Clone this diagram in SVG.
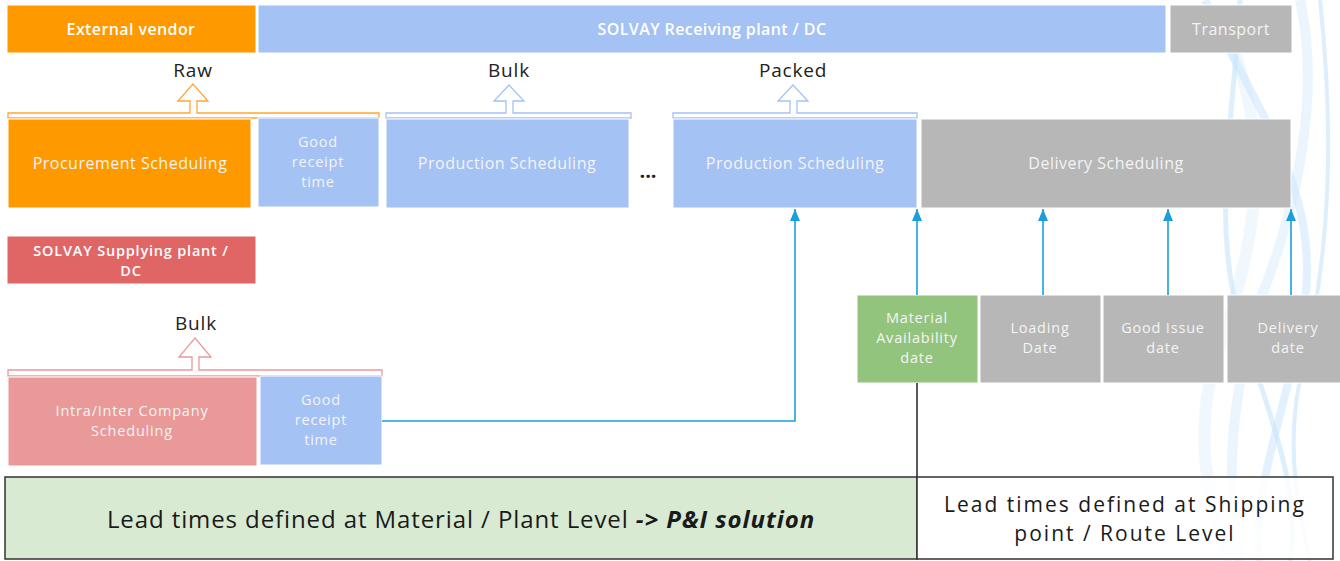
<svg xmlns="http://www.w3.org/2000/svg" width="1340" height="561" viewBox="0 0 1340 561">
<style>
  text { font-family: "Open Sans", "Noto Sans", "Liberation Sans", sans-serif; }
  .box { stroke: #ffffff; stroke-width: 1; }
  .lt { fill: #f4f4f4; font-size: 16px; letter-spacing: 0.5px; text-anchor: middle; }
  .ml { fill: #f4f4f4; font-size: 14.5px; letter-spacing: 0.8px; text-anchor: middle; }
  .hd { fill: #ffffff; font-size: 16px; letter-spacing: 0.4px; font-weight: 600; text-anchor: middle; }
  .hd2 { fill: #ffffff; font-size: 14.5px; letter-spacing: 0.8px; font-weight: 600; text-anchor: middle; }
  .lbl { fill: #222222; font-size: 19px; letter-spacing: 0.8px; text-anchor: middle; }
  .conn { stroke: #1a9fdc; stroke-width: 1.6; fill: none; }
  .wave { fill: none; stroke: #a9d8fb; }
  .big { fill: #1a1a1a; font-size: 24px; letter-spacing: 0.9px; text-anchor: middle; }
  .big2 { fill: #1a1a1a; font-size: 21px; letter-spacing: 2px; text-anchor: middle; }
</style>
<defs>
  <marker id="arr" viewBox="0 0 12 10" refX="12" refY="5" markerWidth="12" markerHeight="10" markerUnits="userSpaceOnUse" orient="auto">
    <path d="M0,0 L12,5 L0,10 Z" fill="#1a9fdc"/>
  </marker>
</defs>

<!-- decorative waves -->
<g id="waves" opacity="0.65">
  <path class="wave" stroke-width="8" opacity="0.5" d="M1205,0 C1260,120 1330,200 1300,330 C1280,430 1250,500 1260,561"/>
  <path class="wave" stroke-width="5" opacity="0.6" d="M1240,0 C1235,110 1210,220 1240,320 C1270,420 1300,480 1290,561"/>
  <path class="wave" stroke-width="10" opacity="0.35" d="M1300,0 C1320,90 1300,200 1260,300 C1230,400 1225,480 1240,561"/>
  <path class="wave" stroke-width="4" opacity="0.6" d="M1320,0 C1335,140 1330,260 1300,380 C1285,450 1300,520 1310,561"/>
  <path class="wave" stroke-width="12" opacity="0.25" d="M1225,30 C1280,150 1250,260 1215,360 C1195,430 1205,500 1230,561"/>
</g>

<!-- header -->
<g id="external-vendor"><rect class="box" x="7" y="5" width="249" height="48" fill="#ff9900"/><text class="hd" x="131" y="35">External vendor</text></g>
<g id="receiving-plant"><rect class="box" x="258" y="5" width="908" height="48" fill="#a4c2f4"/><text class="hd" x="712" y="35">SOLVAY Receiving plant / DC</text></g>
<g id="transport"><rect class="box" x="1170" y="5" width="122" height="48" fill="#b7b7b7"/><text class="lt" x="1231" y="35">Transport</text></g>

<!-- material labels and block arrows -->
<g id="raw">
  <text class="lbl" x="193" y="77">Raw</text>
  <path d="M8,118 H379 V113 H197 V101 H208 L193,84 L178,101 H190 V113 H8 Z" fill="#ffffff" stroke="#ffa733" stroke-width="1.3"/>
</g>
<g id="bulk-top">
  <text class="lbl" x="509" y="77">Bulk</text>
  <path d="M386,118 H631 V113 H513 V101 H524 L509,85 L494,101 H506 V113 H386 Z" fill="#ffffff" stroke="#a4c2f4" stroke-width="1.3"/>
</g>
<g id="packed">
  <text class="lbl" x="793" y="77">Packed</text>
  <path d="M673,118 H917 V113 H797 V101 H808 L793,85 L778,101 H790 V113 H673 Z" fill="#ffffff" stroke="#a4c2f4" stroke-width="1.3"/>
</g>

<!-- scheduling row -->
<g id="procurement"><rect class="box" x="8" y="119" width="243" height="89" fill="#ff9900"/><text class="lt" x="130" y="169">Procurement Scheduling</text></g>
<g id="gr-time-1"><rect class="box" x="258" y="118" width="121" height="89" fill="#a4c2f4"/>
  <text class="ml" x="318" y="147">Good</text><text class="ml" x="318" y="167">receipt</text><text class="ml" x="318" y="187">time</text></g>
<g id="production-1"><rect class="box" x="386" y="119" width="243" height="89" fill="#a4c2f4"/><text class="lt" x="507" y="169">Production Scheduling</text></g>
<g id="ellipsis"><text x="648" y="178" font-size="20" font-weight="bold" fill="#222" text-anchor="middle">...</text></g>
<g id="production-2"><rect class="box" x="673" y="119" width="244" height="89" fill="#a4c2f4"/><text class="lt" x="795" y="169">Production Scheduling</text></g>
<g id="delivery-scheduling"><rect class="box" x="921" y="119" width="370" height="89" fill="#b7b7b7"/><text class="lt" x="1106" y="169">Delivery Scheduling</text></g>

<!-- supplying plant -->
<g id="supplying-plant"><rect class="box" x="7" y="236" width="249" height="48" fill="#e06666"/>
  <text class="hd2" x="131" y="256">SOLVAY Supplying plant /</text><text class="hd2" x="131" y="276">DC</text></g>
<g id="bulk-bottom">
  <text class="lbl" x="196" y="330">Bulk</text>
  <path d="M8,376 H382 V370 H199 V357 H211 L195,338 L179,357 H192 V370 H8 Z" fill="#ffffff" stroke="#ea9999" stroke-width="1.3"/>
</g>
<g id="intercompany"><rect class="box" x="8" y="377" width="249" height="89" fill="#ea9999"/>
  <text class="ml" x="132" y="416">Intra/Inter Company</text><text class="ml" x="132" y="436">Scheduling</text></g>
<g id="gr-time-2"><rect class="box" x="260" y="376" width="122" height="89" fill="#a4c2f4"/>
  <text class="ml" x="321" y="405">Good</text><text class="ml" x="321" y="425">receipt</text><text class="ml" x="321" y="445">time</text></g>

<!-- date boxes -->
<g id="mat-avail"><rect class="box" x="857" y="295" width="121" height="88" fill="#93c47d"/>
  <text class="ml" x="917" y="323">Material</text><text class="ml" x="917" y="343">Availability</text><text class="ml" x="917" y="363">date</text></g>
<g id="loading"><rect class="box" x="980" y="295" width="121" height="88" fill="#b7b7b7"/>
  <text class="ml" x="1040" y="333">Loading</text><text class="ml" x="1040" y="353">Date</text></g>
<g id="goods-issue"><rect class="box" x="1103" y="295" width="121" height="88" fill="#b7b7b7"/>
  <text class="ml" x="1163" y="333">Good Issue</text><text class="ml" x="1163" y="353">date</text></g>
<g id="delivery-date"><rect class="box" x="1227" y="295" width="114" height="88" fill="#b7b7b7"/>
  <text class="ml" x="1288" y="333">Delivery</text><text class="ml" x="1288" y="353">date</text></g>

<!-- connectors -->
<g id="connectors">
  <path class="conn" d="M382,421 H795 V209" marker-end="url(#arr)"/>
  <path class="conn" d="M917,295 V209" marker-end="url(#arr)"/>
  <path class="conn" d="M1043,295 V209" marker-end="url(#arr)"/>
  <path class="conn" d="M1168,295 V209" marker-end="url(#arr)"/>
  <path class="conn" d="M1291,295 V209" marker-end="url(#arr)"/>
  <path d="M917,383 V477" stroke="#000" stroke-width="1.3" fill="none"/>
</g>

<!-- bottom table -->
<g id="lead-material">
  <rect x="5" y="477" width="912" height="82" fill="#d9ead3" stroke="#333" stroke-width="1.5"/>
  <text class="big" x="461" y="528">Lead times defined at Material / Plant Level <tspan font-weight="bold" font-style="italic">-&gt; P&amp;I solution</tspan></text>
</g>
<g id="lead-shipping">
  <rect x="917" y="477" width="416" height="82" fill="#ffffff" fill-opacity="0.85" stroke="#333" stroke-width="1.5"/>
  <text class="big2" x="1125" y="512">Lead times defined at Shipping</text>
  <text class="big2" x="1125" y="541">point / Route Level</text>
</g>
</svg>
